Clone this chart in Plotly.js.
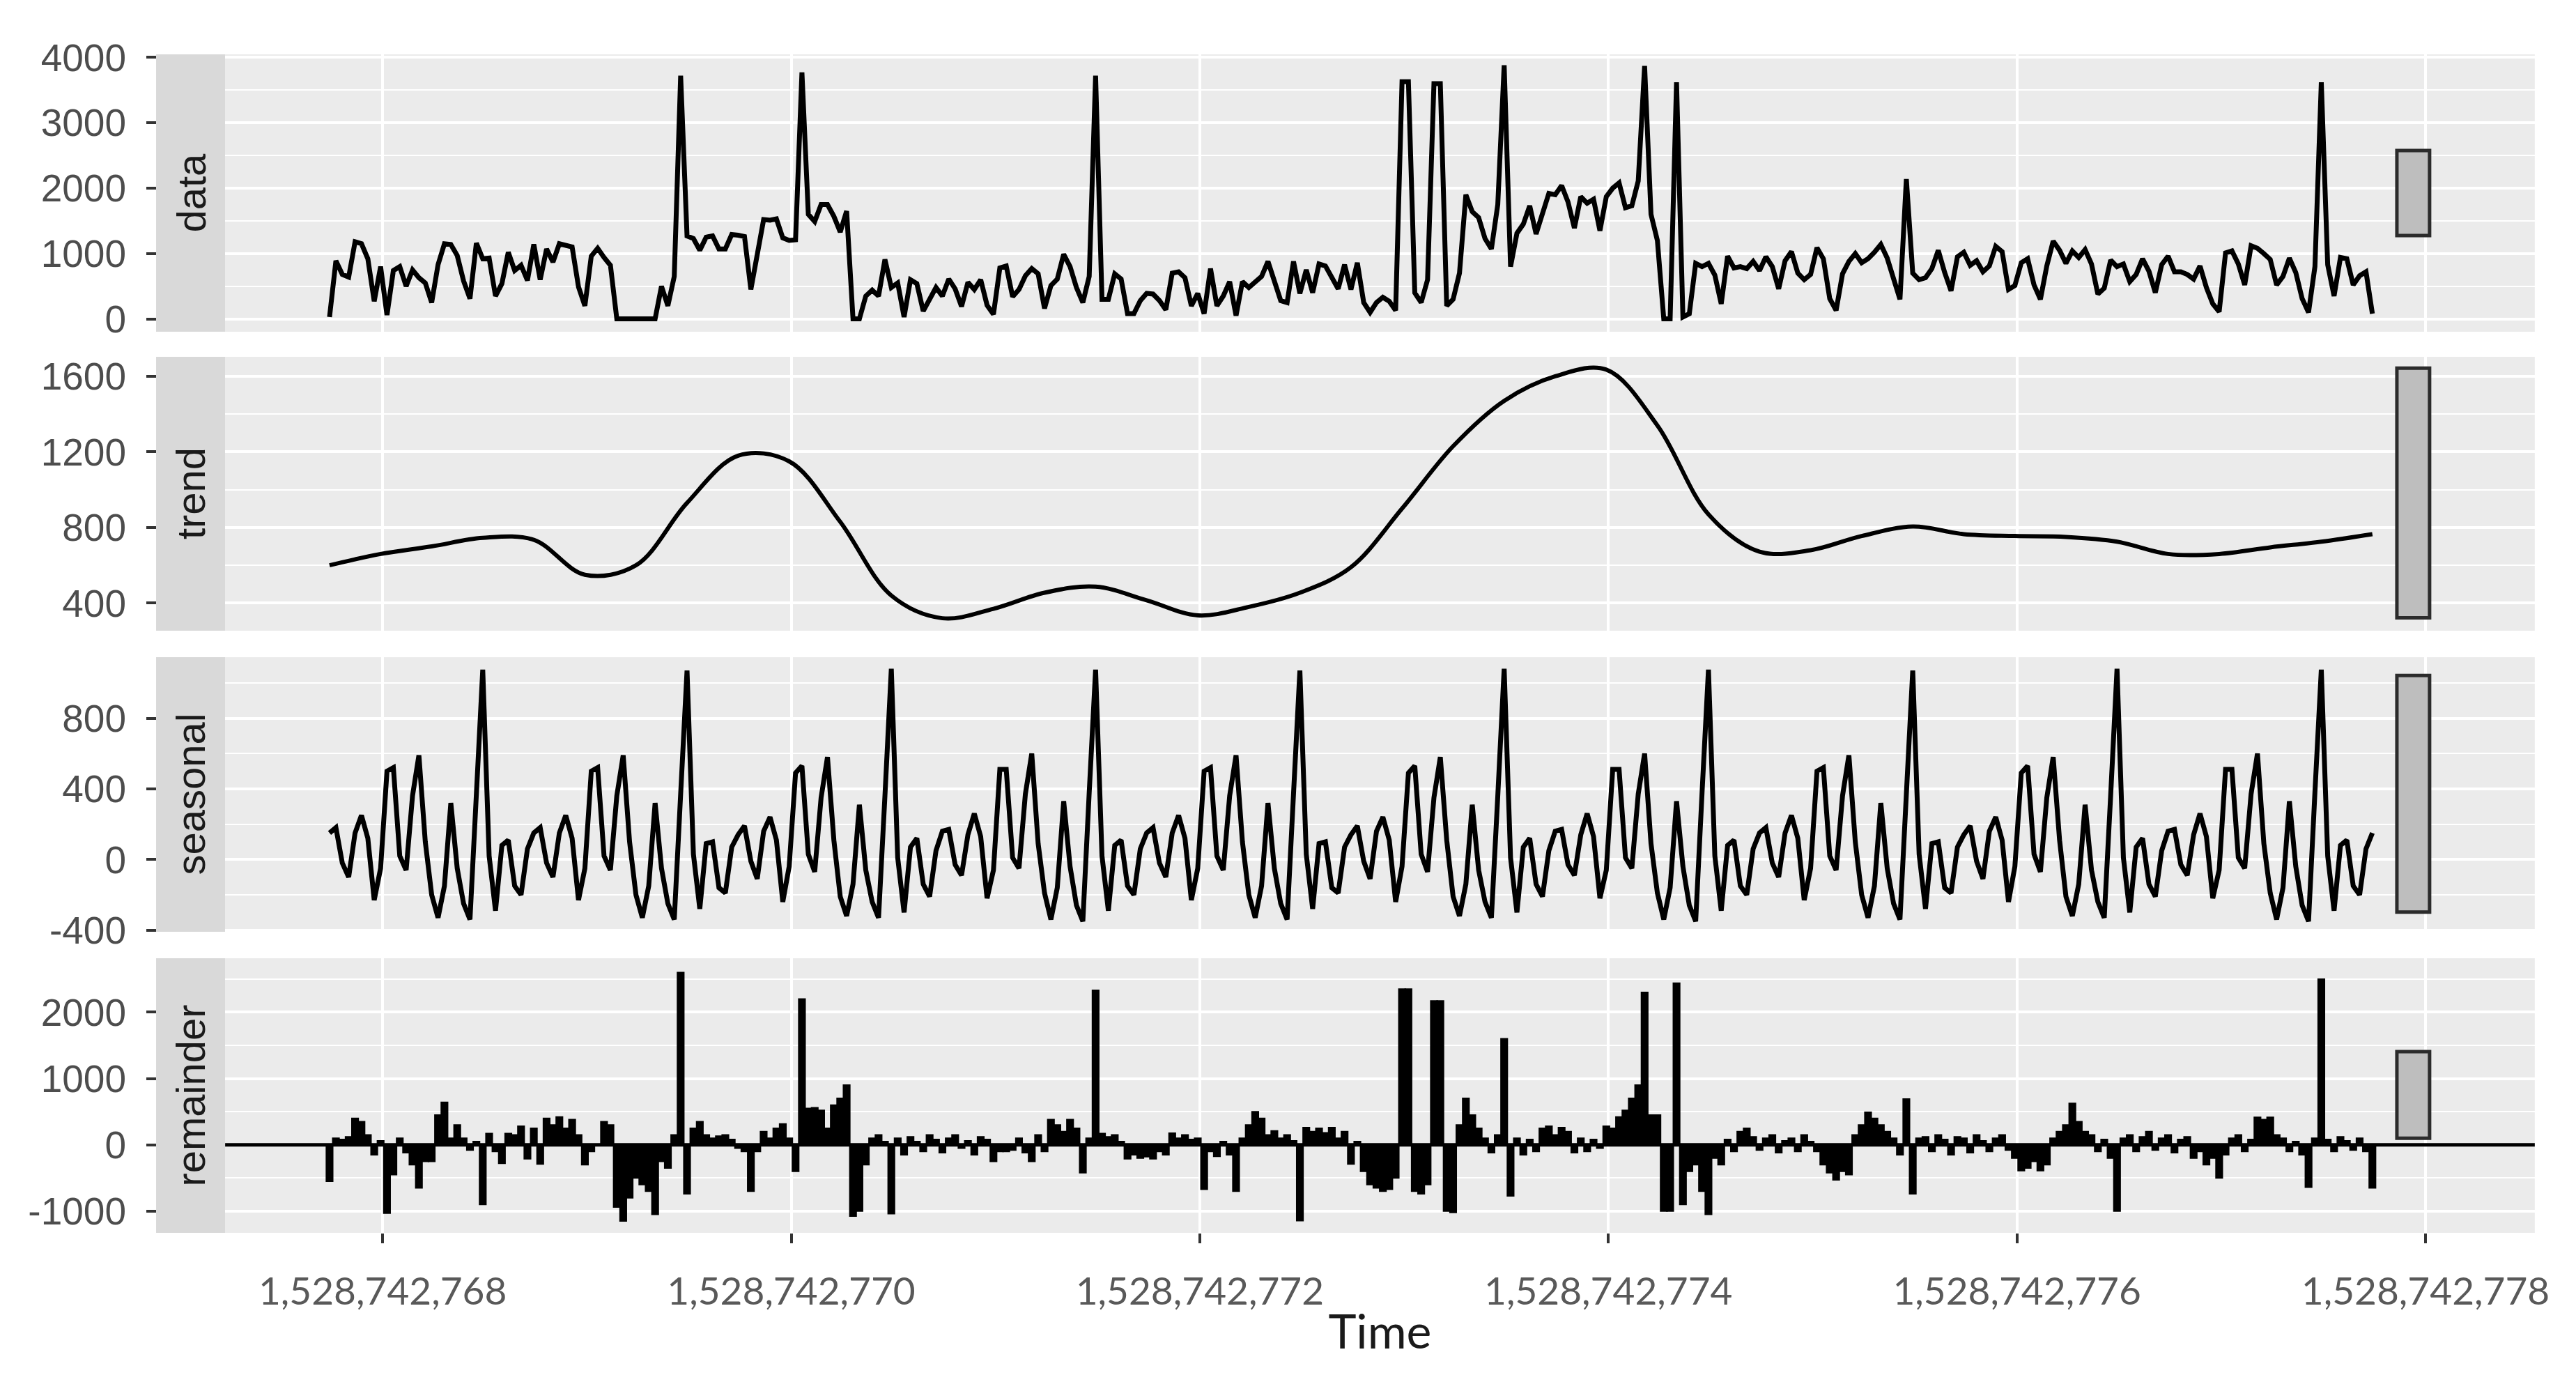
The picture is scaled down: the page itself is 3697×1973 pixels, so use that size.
<!DOCTYPE html>
<html><head><meta charset="utf-8">
<script src="https://cdn.plot.ly/plotly-3.0.1.min.js"></script>
<style>html,body{margin:0;padding:0;background:#fff;} #chart{width:3697px;height:1973px;}</style>
</head><body><div id="chart"></div>
<script>
// ---- data (STL decomposition of a time series) ----
const panelNames = ['data', 'trend', 'seasonal', 'remainder'];
const tsStart = 1528742767.74;   // time of first observation
const tsFreq = 32;               // observations per time unit
const trendEvery = 8;            // trend values read every 8 observations

const dataValues = [
30,890,680,640,1180,1150,920,270,800,60,
740,800,500,750,630,550,250,830,1150,1140,
970,580,310,1160,920,930,350,540,1020,740,
820,590,1140,600,1070,870,1150,1120,1100,490,
200,960,1080,940,820,0,0,0,0,0,
0,0,500,200,650,3720,1270,1230,1050,1250,
1270,1070,1070,1290,1280,1260,450,970,1520,1510,
1530,1240,1200,1210,3770,1600,1490,1750,1750,1570,
1330,1650,0,0,350,440,350,910,480,550,
30,600,540,120,300,480,350,610,460,190,
560,450,600,210,70,780,810,340,450,660,
770,690,160,510,610,990,800,480,250,650,
3720,300,300,690,610,80,80,280,390,380,
280,140,700,720,630,200,390,80,770,200,
350,570,50,570,480,560,650,880,580,280,
250,880,390,750,400,840,810,650,460,830,
450,860,250,100,250,330,270,130,3630,3630,
400,250,600,3600,3600,200,300,700,1900,1640,
1550,1230,1070,1750,3880,800,1310,1450,1730,1300,
1620,1920,1900,2040,1790,1390,1870,1770,1830,1350,
1870,2000,2080,1700,1730,2110,3870,1600,1200,0,
0,3620,30,80,850,800,850,670,230,960,
780,800,770,880,740,950,800,460,890,1030,
700,600,680,1090,920,310,130,690,880,1000,
860,920,1020,1140,930,640,300,2140,700,600,
630,770,1050,710,430,950,1020,820,890,720,
810,1110,1030,450,510,860,920,520,300,810,
1190,1050,850,1040,940,1060,840,380,470,900,
800,840,570,680,920,730,400,830,960,720,
720,680,610,810,480,230,110,1010,1040,840,
520,1120,1080,1000,910,520,650,930,710,310,
100,800,3620,830,350,940,920,520,660,720,
80];

const trendValues = [600,660,700,745,735,550,600,930,1180,1150,
830,440,320,370,455,487,415,335,380,455,
590,900,1230,1470,1600,1635,1340,870,672,680,
755,805,765,755,750,725,660,660,695,725,765];

const seasonalValues = [
150,180,-20,-100,150,250,120,-230,-50,500,520,20,-60,360,590,100,-200,-330,-150,320,-50,-250,-340,370,
1075,20,-290,80,110,-150,-200,60,150,180,-20,-100,150,250,120,-230,-50,500,520,20,-60,360,590,100,-200,-330,-150,320,-50,-250,-340,370,
1070,30,-280,90,100,-160,-190,70,140,190,-10,-110,160,240,110,-240,-40,490,530,30,-70,350,580,110,-210,-320,-140,310,-60,-240,-330,360,
1080,10,-300,70,120,-140,-210,50,160,170,-30,-90,140,260,130,-220,-60,510,510,10,-50,370,600,90,-190,-340,-160,330,-40,-260,-350,380,
1075,20,-290,80,110,-150,-200,60,150,180,-20,-100,150,250,120,-230,-50,500,520,20,-60,360,590,100,-200,-330,-150,320,-50,-250,-340,370,
1070,30,-280,90,100,-160,-190,70,140,190,-10,-110,160,240,110,-240,-40,490,530,30,-70,350,580,110,-210,-320,-140,310,-60,-240,-330,360,
1080,10,-300,70,120,-140,-210,50,160,170,-30,-90,140,260,130,-220,-60,510,510,10,-50,370,600,90,-190,-340,-160,330,-40,-260,-350,380,
1075,20,-290,80,110,-150,-200,60,150,180,-20,-100,150,250,120,-230,-50,500,520,20,-60,360,590,100,-200,-330,-150,320,-50,-250,-340,370,
1070,30,-280,90,100,-160,-190,70,140,190,-10,-110,160,240,110,-240,-40,490,530,30,-70,350,580,110,-210,-320,-140,310,-60,-240,-330,360,
1080,10,-300,70,120,-140,-210,50,160,170,-30,-90,140,260,130,-220,-60,510,510,10,-50,370,600,90,-190,-340,-160,330,-40,-260,-350,380,
1075,20,-290,80,110,-150,-200,60,150];

const remainderValues = [
-550,100,80,120,400,350,150,-150,60,-1030,
-450,100,-120,-300,-650,-250,-250,450,640,100,
300,100,-80,50,-900,170,-100,-280,170,150,
280,-210,250,-290,400,300,420,250,380,150,
-300,-100,0,350,300,-940,-1150,-800,-500,-600,
-700,-1050,-250,-350,150,2600,-740,250,350,150,
100,130,150,80,-50,-100,-700,-100,200,100,
250,315,100,-400,2200,550,560,520,250,600,
700,900,-1075,-1000,-300,100,150,50,-1040,100,
-150,120,50,-100,150,80,-120,100,150,-50,
60,-150,120,80,-250,-100,-100,-80,100,-120,
-250,150,-100,380,300,200,380,250,-420,100,
2330,170,120,150,50,-210,-150,-200,-180,-210,
-100,-150,175,100,150,80,100,-670,-100,-175,
50,-150,-700,100,300,500,400,150,210,100,
150,60,-1145,260,200,250,180,260,100,200,
-290,50,-400,-600,-650,-700,-670,-500,2350,2350,
-700,-740,-600,2170,2170,-1000,-1020,300,700,450,
250,100,-120,150,1600,-770,100,-150,80,-100,
250,280,150,260,200,-120,100,-100,80,-50,
280,250,420,520,700,900,2300,450,450,-1000,
-1000,2440,-900,-400,-300,-700,-1050,-200,-300,80,
-100,200,250,120,-80,100,150,-120,60,100,
-100,150,50,-100,-300,-420,-530,-400,-450,150,
300,490,400,300,200,100,-150,690,-740,100,
120,-100,150,80,-150,120,100,-120,150,60,
-100,100,150,-80,-200,-390,-350,-250,-390,-300,
100,200,300,625,350,200,150,-100,80,-200,
-1000,100,150,-100,120,200,-80,100,150,-120,
80,120,-200,-100,-300,-200,-500,-150,100,150,
-100,80,415,380,415,150,100,-100,50,-150,
-640,100,2500,80,-100,120,60,-80,100,-100,
-650];

// range bars (same length in every panel), low/high in each panel's units
const rangeBarLow  = [1275, 322, -298, 99];
const rangeBarHigh = [2575, 1643, 1042, 1407];

// tick values of each panel's y axis
const yTickValues = [
  [0, 1000, 2000, 3000, 4000],
  [400, 800, 1200, 1600],
  [-400, 0, 400, 800],
  [-1000, 0, 1000, 2000]
];

// x axis ticks
const xTickStart = 1528742768;
const xTickStep = 2;

// ---- layout constants ----
const W = 3697, H = 1973;
const xDomain = [0.0874, 0.9840];
const xRange = [1528742767.229, 1528742778.535];
const stripX = [0.0606, 0.0874];
const yDomains = [[0.7587, 0.9605], [0.5413, 0.7405], [0.3224, 0.5220], [0.1034, 0.3031]];
const yRanges = [[-197, 4048], [254, 1703], [-409, 1145], [-1328, 2815]];
const yMinor = [500, 200, 200, 500];
const rangeBarX = [1528742777.86, 1528742778.02];

const time = dataValues.map((_, i) => tsStart + i / tsFreq);
const trendTime = trendValues.map((_, k) => tsStart + k * trendEvery / tsFreq);

const traces = [
  {type: 'scatter', mode: 'lines', x: time, y: dataValues, xaxis: 'x', yaxis: 'y',
   line: {color: '#000000', width: 7, join: 'round'}, hoverinfo: 'skip'},
  {type: 'scatter', mode: 'lines', x: trendTime, y: trendValues, xaxis: 'x', yaxis: 'y2',
   line: {color: '#000000', width: 6, shape: 'spline', smoothing: 1}, hoverinfo: 'skip'},
  {type: 'scatter', mode: 'lines', x: time, y: seasonalValues, xaxis: 'x', yaxis: 'y3',
   line: {color: '#000000', width: 7}, hoverinfo: 'skip'},
  {type: 'bar', x: time, y: remainderValues, xaxis: 'x', yaxis: 'y4', width: 1 / tsFreq,
   marker: {color: '#000000', line: {color: '#000000', width: 2}}, hoverinfo: 'skip'}
];

const yTickFont = {family: 'Liberation Sans, Arial, sans-serif', size: 55, color: '#4D4D4D'};

const layout = {
  width: W, height: H,
  margin: {l: 0, r: 0, t: 0, b: 0, pad: 0},
  paper_bgcolor: '#FFFFFF',
  plot_bgcolor: '#EBEBEB',
  showlegend: false,
  bargap: 0,
  xaxis: {
    domain: xDomain, range: xRange, anchor: 'y4',
    tick0: xTickStart, dtick: xTickStep, tickformat: ',d',
    ticks: 'outside', ticklen: 14, tickwidth: 4, tickcolor: '#333333',
    ticklabelstandoff: 22,
    tickfont: {family: 'Lato, Carlito, sans-serif', size: 55, color: '#595959'},
    showgrid: true, gridcolor: '#FFFFFF', gridwidth: 4,
    zeroline: false, showline: false, automargin: false,
    title: {text: 'Time', standoff: 4, font: {family: 'Lato, Carlito, sans-serif', size: 68, color: '#1A1A1A'}}
  },
  shapes: [],
  annotations: []
};

panelNames.forEach((name, j) => {
  const key = j === 0 ? 'yaxis' : 'yaxis' + (j + 1);
  const yref = j === 0 ? 'y' : 'y' + (j + 1);
  layout[key] = {
    domain: yDomains[j], range: yRanges[j], anchor: 'free', position: stripX[0],
    tickmode: 'array', tickvals: yTickValues[j], ticktext: yTickValues[j].map(v => String(v)),
    ticks: 'outside', ticklen: 14, tickwidth: 4, tickcolor: '#333333',
    ticklabelstandoff: 18,
    tickfont: yTickFont,
    showgrid: true, gridcolor: '#FFFFFF', gridwidth: 4,
    minor: {dtick: yMinor[j], showgrid: true, gridcolor: '#FFFFFF', gridwidth: 2},
    zeroline: false, showline: false, automargin: false
  };
  // strip on the left
  layout.shapes.push({type: 'rect', xref: 'paper', yref: yref + ' domain',
    x0: stripX[0], x1: stripX[1], y0: 0, y1: 1,
    fillcolor: '#D9D9D9', line: {width: 0}, layer: 'below'});
  layout.annotations.push({xref: 'paper', yref: yref + ' domain',
    x: (stripX[0] + stripX[1]) / 2, y: 0.5, text: name, textangle: -90, showarrow: false,
    xanchor: 'center', yanchor: 'middle',
    font: {family: 'Liberation Sans, Arial, sans-serif', size: 58, color: '#1A1A1A'}});
  // range bar
  layout.shapes.push({type: 'rect', xref: 'x', yref: yref,
    x0: rangeBarX[0], x1: rangeBarX[1], y0: rangeBarLow[j], y1: rangeBarHigh[j],
    fillcolor: '#BEBEBE', line: {color: '#2B2B2B', width: 5}, layer: 'above'});
});

// horizontal zero line in the remainder panel
layout.shapes.push({type: 'line', xref: 'x domain', yref: 'y4', x0: 0, x1: 1, y0: 0, y1: 0,
  line: {color: '#000000', width: 5}, layer: 'above'});

Plotly.newPlot('chart', traces, layout, {staticPlot: true, displayModeBar: false});
</script>
</body></html>
